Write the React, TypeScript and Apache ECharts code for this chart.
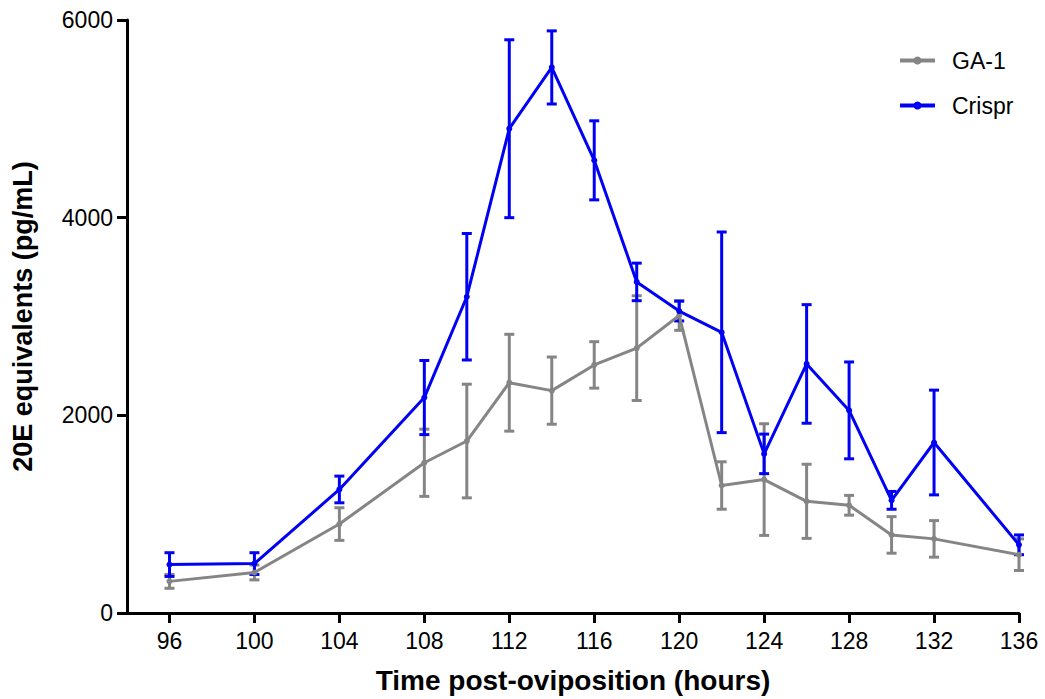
import React, { useEffect, useRef } from "react";
import * as echarts from "echarts";

const hours = [96, 100, 104, 108, 110, 112, 114, 116, 118, 120, 122, 124, 126, 128, 130, 132, 136];
const gaMean = [320, 410, 900, 1520, 1740, 2330, 2250, 2510, 2680, 3010, 1290, 1350, 1130, 1090, 790, 750, 590];
const gaErr = [70, 75, 165, 340, 575, 490, 340, 235, 530, 150, 240, 565, 375, 100, 185, 185, 160];
const crMean = [490, 500, 1250, 2180, 3200, 4900, 5520, 4580, 3350, 3055, 2840, 1610, 2520, 2050, 1140, 1725, 690];
const crErr = [120, 110, 135, 375, 640, 900, 370, 400, 190, 100, 1015, 200, 600, 490, 90, 530, 100];
const xTicks = [96, 100, 104, 108, 112, 116, 120, 124, 128, 132, 136];

const GREY = "#858585";
const BLUE = "#0000f5";
const FONT = "'Liberation Sans', Arial, sans-serif";

function errorBarSeries(name: string, mean: number[], err: number[], color: string) {
  return {
    name,
    type: "custom",
    clip: false,
    z: 2,
    encode: { x: 0, y: [1, 2] },
    data: hours.map((h, i) => [h, mean[i] - err[i], mean[i] + err[i]]),
    renderItem: (params: any, api: any) => {
      const x = api.value(0);
      const lo = api.coord([x, api.value(1)]);
      const hi = api.coord([x, api.value(2)]);
      const half = 5;
      const style = { stroke: color, lineWidth: 3 };
      return {
        type: "group",
        children: [
          { type: "line", shape: { x1: lo[0], y1: lo[1], x2: hi[0], y2: hi[1] }, style },
          { type: "line", shape: { x1: lo[0] - half, y1: lo[1], x2: lo[0] + half, y2: lo[1] }, style },
          { type: "line", shape: { x1: hi[0] - half, y1: hi[1], x2: hi[0] + half, y2: hi[1] }, style },
        ],
      };
    },
  };
}

function lineSeries(name: string, mean: number[], color: string) {
  return {
    name,
    type: "line",
    z: 3,
    data: hours.map((h, i) => [h, mean[i]]),
    symbol: "circle",
    symbolSize: 6,
    lineStyle: { color, width: 3 },
    itemStyle: { color },
    clip: false,
  };
}

export default function App() {
  const ref = useRef<HTMLDivElement>(null);
  useEffect(() => {
    if (!ref.current) return;
    const chart = echarts.init(ref.current, undefined, { renderer: "svg" });
    chart.setOption({
      animation: false,
      backgroundColor: "#ffffff",
      grid: { left: 127, right: 26, top: 20, bottom: 84, containLabel: false },
      legend: {
        data: ["GA-1", "Crispr"],
        orient: "vertical",
        left: 893,
        top: 44,
        itemWidth: 35,
        itemHeight: 10,
        itemGap: 22,
        lineStyle: { width: 4 },
        itemStyle: { borderWidth: 0 },
        textStyle: { fontFamily: FONT, fontSize: 23, color: "#000", padding: [0, 0, 0, 12] },
      },
      xAxis: {
        type: "value",
        min: 94,
        max: 136,
        name: "Time post-oviposition (hours)",
        nameLocation: "middle",
        nameGap: 53,
        nameTextStyle: { fontFamily: FONT, fontSize: 28, fontWeight: "bold", color: "#000" },
        axisLine: { show: true, onZero: false, lineStyle: { color: "#000", width: 3 } },
        axisTick: { show: true, length: 10, lineStyle: { color: "#000", width: 3 }, customValues: xTicks },
        axisLabel: { fontFamily: FONT, fontSize: 23, color: "#000", margin: 16, customValues: xTicks },
        splitLine: { show: false },
      },
      yAxis: {
        type: "value",
        min: 0,
        max: 6000,
        interval: 2000,
        name: "20E equivalents (pg/mL)",
        nameLocation: "middle",
        nameGap: 91,
        nameTextStyle: { fontFamily: FONT, fontSize: 27, fontWeight: "bold", color: "#000" },
        axisLine: { show: true, lineStyle: { color: "#000", width: 3 } },
        axisTick: { show: true, length: 10, lineStyle: { color: "#000", width: 3 } },
        axisLabel: {
          fontFamily: FONT,
          fontSize: 23,
          color: "#000",
          margin: 14,
          formatter: (v: number) => String(v),
        },
        splitLine: { show: false },
      },
      series: [
        errorBarSeries("GA-1 SEM", gaMean, gaErr, GREY),
        lineSeries("GA-1", gaMean, GREY),
        errorBarSeries("Crispr SEM", crMean, crErr, BLUE),
        lineSeries("Crispr", crMean, BLUE),
      ],
    });
    return () => chart.dispose();
  }, []);
  return (
    <div
      ref={ref}
      style={{ position: "absolute", left: 0, top: 0, width: 1045, height: 699, background: "#fff" }}
    />
  );
}
